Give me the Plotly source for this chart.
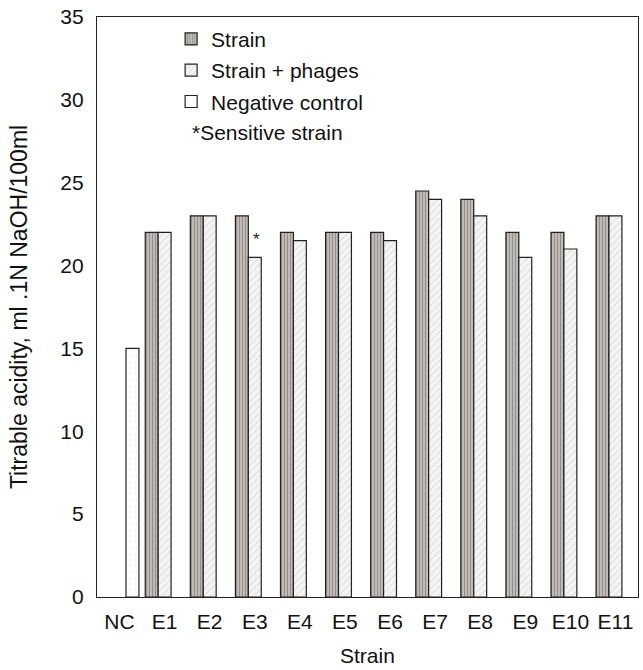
import plotly.graph_objects as go

categories = ["NC", "E1", "E2", "E3", "E4", "E5", "E6", "E7", "E8", "E9", "E10", "E11"]
strain = [None, 22, 23, 23, 22, 22, 22, 24.5, 24, 22, 22, 23]
strain_phages = [None, 22, 23, 20.5, 21.5, 22, 21.5, 24, 23, 20.5, 21, 23]
negative_control = [15, None, None, None, None, None, None, None, None, None, None, None]

FONT = "Liberation Sans, Arial, sans-serif"

fig = go.Figure()
fig.add_trace(go.Bar(
    x=categories, y=strain, name="Strain", legendgroup="a",
    marker=dict(color="#c8c4c0", line=dict(color="#222", width=1.2),
                pattern=dict(shape="|", fgcolor="#5e5a56", bgcolor="#c8c4c0", size=3, solidity=0.45)),
))
fig.add_trace(go.Bar(
    x=categories, y=strain_phages, name="Strain + phages", legendgroup="b",
    marker=dict(color="#f2f2f2", line=dict(color="#222", width=1.2),
                pattern=dict(shape="/", fgcolor="#a0a0a0", bgcolor="#f4f4f4", size=5, solidity=0.15)),
))
fig.add_trace(go.Bar(
    x=categories, y=negative_control, name="Negative control", legendgroup="c",
    marker=dict(color="white", line=dict(color="#222", width=1.2),
                pattern=dict(shape=".", fgcolor="#dddddd", bgcolor="white", size=6, solidity=0.1)),
))

fig.add_annotation(x="E3", y=20.5, text="*", showarrow=False, yanchor="bottom",
                   yshift=6, xshift=2, font=dict(family=FONT, size=17, color="#222"))
fig.add_annotation(x=0.177, y=0.8, xref="paper", yref="paper", xanchor="left", yanchor="middle",
                   text="*Sensitive strain", showarrow=False, xshift=-3,
                   font=dict(family=FONT, size=21, color="#111"))
# axis titles
fig.add_annotation(x=0.5, y=-0.1, xref="paper", yref="paper", xanchor="center", yanchor="middle",
                   text="Strain", showarrow=False, font=dict(family=FONT, size=21, color="#111"))
fig.add_annotation(x=-0.144, y=0.5, xref="paper", yref="paper", xanchor="center", yanchor="middle",
                   text="Titrable acidity, ml .1N NaOH/100ml", textangle=-90, showarrow=False,
                   font=dict(family=FONT, size=23, color="#111"))

fig.update_layout(
    width=643, height=670,
    margin=dict(l=97, r=5, t=17, b=73),
    paper_bgcolor="white", plot_bgcolor="white",
    barmode="group", bargap=0.14, bargroupgap=0,
    font=dict(family=FONT, size=21, color="#111"),
    showlegend=True,
    legend=dict(x=0.137, y=0.997, xanchor="left", yanchor="top", bgcolor="rgba(0,0,0,0)",
                font=dict(family=FONT, size=21, color="#111"), tracegroupgap=1,
                itemwidth=30),
    xaxis=dict(automargin=False,
               showline=True, linecolor="#222", linewidth=1.2, mirror=True,
               ticks="", tickfont=dict(size=21), ticklabelstandoff=6, showgrid=False),
    yaxis=dict(automargin=False,
               range=[0, 35], dtick=5, showline=True, linecolor="#222", linewidth=1.2, mirror=True,
               ticks="", tickfont=dict(size=21), ticklabelstandoff=8, showgrid=False, zeroline=False),
)

fig.write_html("out.html", config={"displayModeBar": False},
               post_script="document.body.style.margin='0';")
